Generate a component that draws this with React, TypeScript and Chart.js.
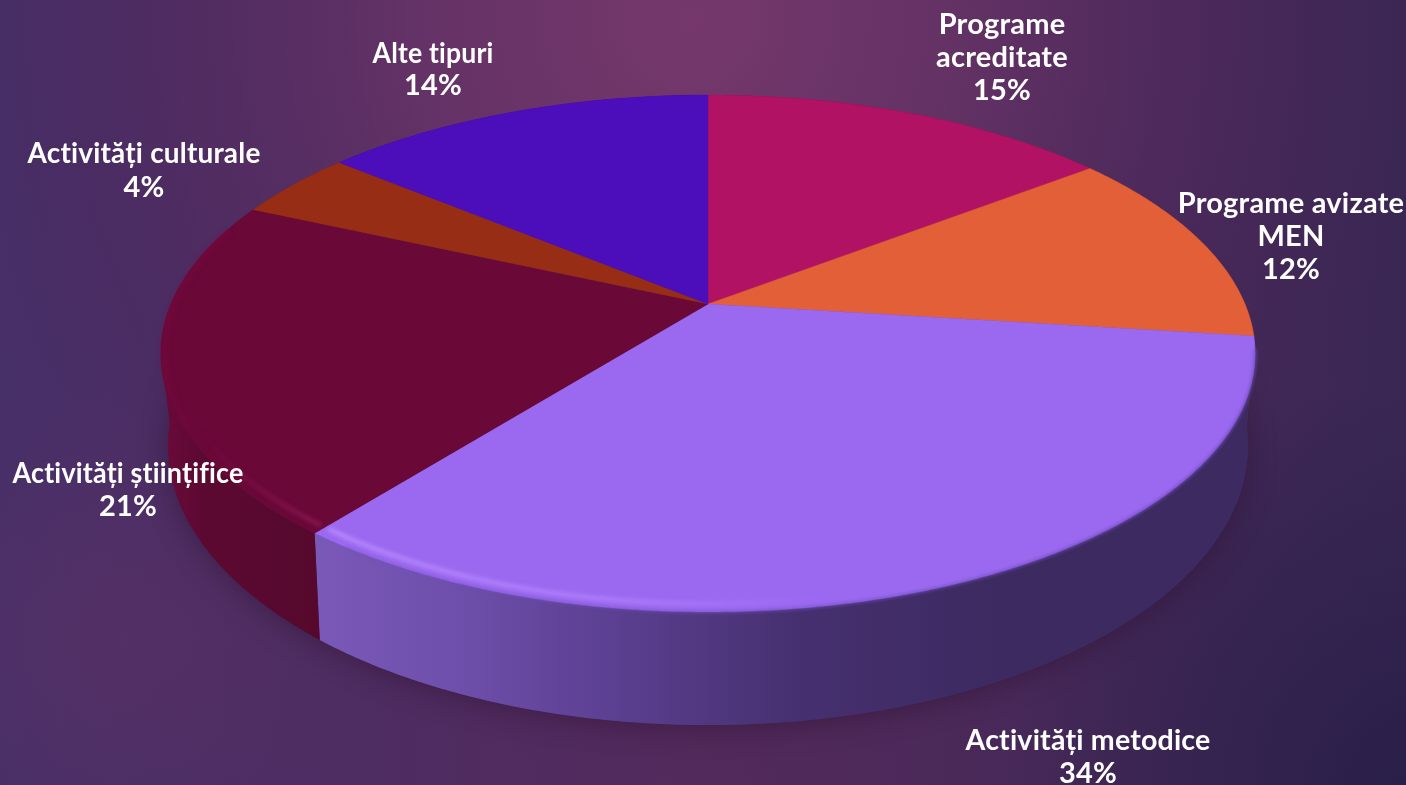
import React, { useEffect, useRef } from "react";
import { Chart, registerables } from "chart.js";

Chart.register(...registerables);

const categories: string[][] = [
  ["Programe", "acreditate"],
  ["Programe avizate", "MEN"],
  ["Activități metodice"],
  ["Activități științifice"],
  ["Activități culturale"],
  ["Alte tipuri"],
];
const values = [14.6, 12.4, 33.7, 21, 4.3, 14];
const shownPercents = [15, 12, 34, 21, 4, 14];
const sliceColors = ["#B11263", "#E25F38", "#9B69F0", "#6A0838", "#972D14", "#4C0EBB"];
const wallColors = ["#7a0c44", "#7a3018", "#4f3678", "#58082d", "#6a1f0e", "#33097f"];
// label layout: centre x, first-line centre y, line height, widest line
const labelAnchors = [
  [1002, 25, 33, 134],
  [1291, 204, 33, 227],
  [1088, 741, 33, 245],
  [128, 474, 33, 231],
  [144, 154, 34, 233],
  [433, 54, 32, 121],
];

const W = 1406, H = 785;
const P = 0.1915;
const top3d = (t: number, r = 1) => {
  const u = Math.sin(t) * r, v = Math.cos(t) * r, w = 1 + P * v;
  return [708 + (537 * u) / w, 304 - (249 * v) / w];
};
const bottom3d = (t: number) => {
  const u = Math.sin(t), v = Math.cos(t), w = 1 + P * v;
  return [708 + (530 * u) / w, 392.6 - (268.8 * v) / w];
};
const rad = (d: number) => (d * Math.PI) / 180;

function arcPath(ctx: CanvasRenderingContext2D, f: (t: number) => number[], a: number, b: number, first = false) {
  const n = Math.max(2, Math.ceil(Math.abs(b - a) / rad(0.5)));
  for (let i = 0; i <= n; i++) {
    const p = f(a + ((b - a) * i) / n);
    if (i === 0 && first) ctx.moveTo(p[0], p[1]);
    else ctx.lineTo(p[0], p[1]);
  }
}

function strokeRim(ctx: CanvasRenderingContext2D, r: number, a: number, b: number, style: any, width: number, blur: number) {
  ctx.save();
  ctx.filter = `blur(${blur}px)`;
  ctx.beginPath();
  arcPath(ctx, (t) => top3d(t, r), a, b, true);
  ctx.strokeStyle = style;
  ctx.lineWidth = width;
  ctx.stroke();
  ctx.restore();
}

// fills the notch between the top rim and the lower rim at the drum's silhouette
function bridge(ctx: CanvasRenderingContext2D, topDeg: number, bottomDeg: number, color: string) {
  const a = top3d(rad(topDeg));
  const b = bottom3d(rad(bottomDeg));
  const mid = top3d(rad((topDeg + bottomDeg) / 2));
  ctx.beginPath();
  ctx.moveTo(a[0], a[1]);
  ctx.quadraticCurveTo(a[0] + (a[0] < 708 ? 1 : -1), (a[1] + b[1]) / 2, b[0], b[1]);
  ctx.lineTo(mid[0], mid[1]);
  ctx.closePath();
  ctx.fillStyle = color;
  ctx.fill();
}

const pie3d = {
  id: "pie3d",
  beforeDraw(chart: any) {
    const ctx: CanvasRenderingContext2D = chart.ctx;
    ctx.save();
    const base = ctx.createLinearGradient(0, 0, W, 0);
    base.addColorStop(0, "#472f68");
    base.addColorStop(0.5, "#532a5c");
    base.addColorStop(1, "#3a2754");
    ctx.fillStyle = base;
    ctx.fillRect(0, 0, W, H);
    const g = ctx.createRadialGradient(690, 20, 0, 690, 20, 760);
    g.addColorStop(0, "rgba(118,56,108,1)");
    g.addColorStop(0.35, "rgba(106,52,104,0.8)");
    g.addColorStop(0.7, "rgba(84,42,94,0.45)");
    g.addColorStop(1, "rgba(70,36,84,0)");
    ctx.fillStyle = g;
    ctx.fillRect(0, 0, W, H);
    const l = ctx.createRadialGradient(120, 640, 0, 120, 640, 260);
    l.addColorStop(0, "rgba(98,50,100,0.4)");
    l.addColorStop(1, "rgba(98,50,100,0)");
    ctx.fillStyle = l;
    ctx.fillRect(0, 0, W, H);
    const c = ctx.createRadialGradient(1406, 785, 0, 1406, 785, 400);
    c.addColorStop(0, "rgba(40,30,72,0.9)");
    c.addColorStop(1, "rgba(40,30,72,0)");
    ctx.fillStyle = c;
    ctx.fillRect(0, 0, W, H);
    ctx.restore();
  },
  beforeDatasetsDraw(chart: any) {
    const ctx: CanvasRenderingContext2D = chart.ctx;
    const arcs = chart.getDatasetMeta(0).data as any[];
    const theta = (a: number) => a + Math.PI / 2;
    ctx.save();

    // soft shadow of the drum on the background
    ctx.save();
    ctx.shadowColor = "rgba(45,15,45,0.5)";
    ctx.shadowBlur = 26;
    ctx.shadowOffsetY = 3;
    ctx.fillStyle = "#3d2a62";
    ctx.beginPath();
    arcPath(ctx, bottom3d, 0, Math.PI * 2, true);
    ctx.closePath();
    ctx.fill();
    ctx.restore();

    bridge(ctx, 272, 248, "#660a38");
    bridge(ctx, 90, 112, "#3f2c66");

    // side walls
    arcs.forEach((el, i) => {
      const a = theta(el.startAngle), b = theta(el.endAngle);
      ctx.beginPath();
      arcPath(ctx, (t) => top3d(t), a, b, true);
      arcPath(ctx, bottom3d, b, a);
      ctx.closePath();
      let fill: any = wallColors[i];
      if (i === 2) {
        const g = ctx.createLinearGradient(320, 0, 1000, 0);
        g.addColorStop(0, "#7a58b8");
        g.addColorStop(0.2, "#6e4fab");
        g.addColorStop(0.42, "#5c4092");
        g.addColorStop(0.7, "#463070");
        g.addColorStop(1, "#3d2a60");
        fill = g;
      } else if (i === 3) {
        const g = ctx.createLinearGradient(160, 0, 330, 0);
        g.addColorStop(0, "#6c0a3b");
        g.addColorStop(0.25, "#5c0932");
        g.addColorStop(1, "#55082c");
        fill = g;
      }
      ctx.fillStyle = fill;
      ctx.fill();
    });

    // top face
    arcs.forEach((el, i) => {
      const a = theta(el.startAngle), b = theta(el.endAngle);
      ctx.beginPath();
      ctx.moveTo(708, 304);
      arcPath(ctx, (t) => top3d(t), a, b);
      ctx.closePath();
      ctx.fillStyle = sliceColors[i];
      ctx.fill();
      ctx.strokeStyle = sliceColors[i];
      ctx.lineWidth = 0.4;
      ctx.stroke();
    });

    // bevels and highlights, limited to the slice they belong to
    const purple = arcs[2];
    const pb = theta(purple.endAngle);
    const edge = ctx.createLinearGradient(400, 0, 1100, 0);
    edge.addColorStop(0, "rgba(112,80,190,0.4)");
    edge.addColorStop(0.55, "rgba(112,78,190,0.6)");
    edge.addColorStop(1, "rgba(108,74,185,0.7)");
    strokeRim(ctx, 1, rad(100), pb - rad(4), edge, 3, 1.6);
    const hl = ctx.createLinearGradient(320, 0, 830, 0);
    hl.addColorStop(0, "rgba(190,146,255,1)");
    hl.addColorStop(0.6, "rgba(178,132,255,0.9)");
    hl.addColorStop(1, "rgba(175,130,255,0)");
    strokeRim(ctx, 0.978, pb - rad(0.5), rad(165), hl, 3.5, 2);

    const maroon = arcs[3];
    const ma = theta(maroon.startAngle), mb = theta(maroon.endAngle);
    const hm = ctx.createLinearGradient(200, 430, 325, 530);
    hm.addColorStop(0, "rgba(130,14,72,0)");
    hm.addColorStop(0.5, "rgba(132,18,76,0.7)");
    hm.addColorStop(1, "rgba(150,30,90,0.95)");
    strokeRim(ctx, 0.978, ma + rad(0.5), mb - rad(12), hm, 3.5, 2);
    strokeRim(ctx, 0.994, rad(242), mb - rad(6), "rgba(118,10,64,0.55)", 5, 2.5);

    // labels
    ctx.fillStyle = "#ffffff";
    ctx.textAlign = "center";
    ctx.textBaseline = "middle";
    ctx.font = '700 29px "Lato"';
    (ctx as any).letterSpacing = "0.2px";
    categories.forEach((lines, i) => {
      const [x, y, lh, maxW] = labelAnchors[i];
      const all = [...lines, `${shownPercents[i]}%`];
      all.forEach((line, k) => ctx.fillText(line, x, y + k * lh, maxW));
    });
    ctx.restore();
    return false;
  },
};

export default function App() {
  const ref = useRef<HTMLCanvasElement>(null);
  useEffect(() => {
    document.body.style.margin = "0";
    const chart = new Chart(ref.current!, {
      type: "pie",
      data: {
        labels: categories as any,
        datasets: [{ data: values, backgroundColor: sliceColors, borderWidth: 0 }],
      },
      options: {
        responsive: false,
        animation: false,
        devicePixelRatio: 1,
        layout: { padding: 0 },
        plugins: { legend: { display: false }, tooltip: { enabled: false } },
      },
      plugins: [pie3d as any],
    });
    return () => chart.destroy();
  }, []);
  return <canvas ref={ref} width={W} height={H} style={{ display: "block", width: W, height: H }} />;
}
